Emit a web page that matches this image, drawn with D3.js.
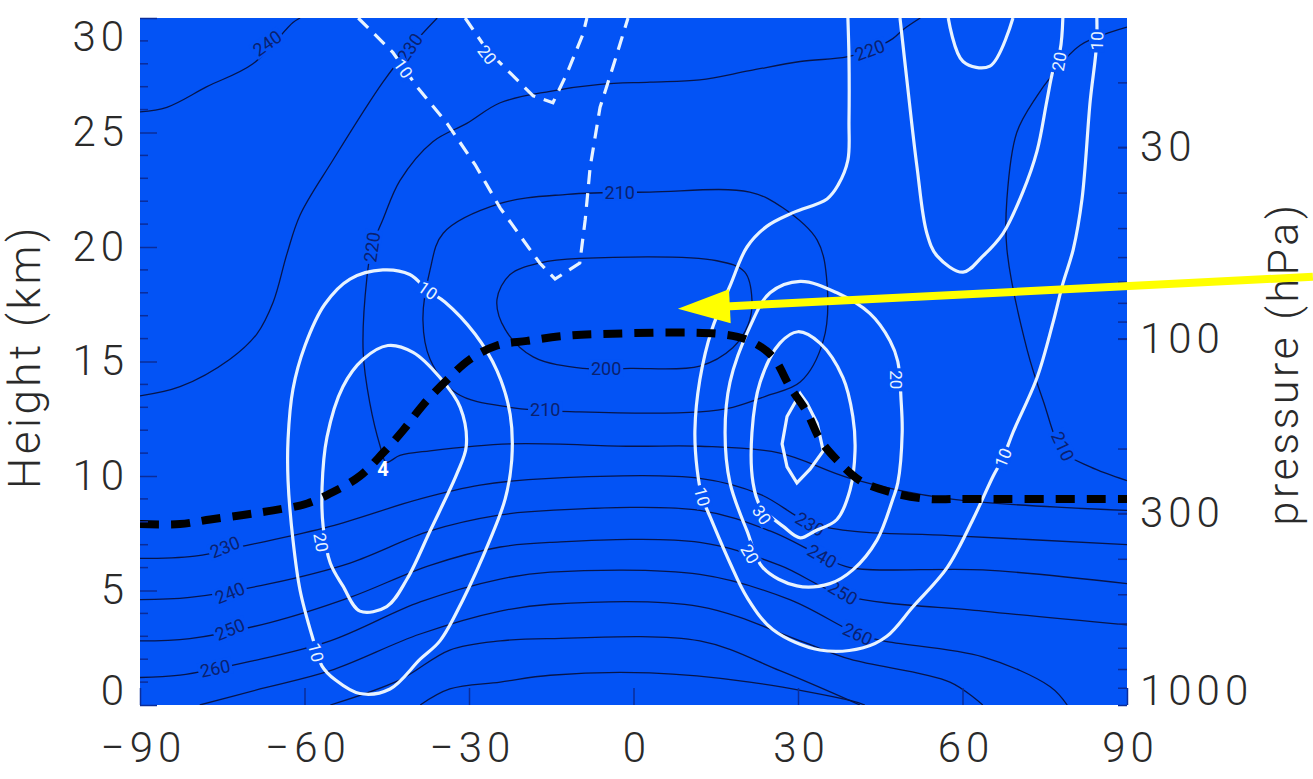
<!DOCTYPE html>
<html>
<head>
<meta charset="utf-8">
<script src="https://cdn.jsdelivr.net/npm/d3@7"></script>
<style>
  body { margin: 0; background: #fff; }
  svg text { font-family: Roboto, "DejaVu Sans", sans-serif; }
</style>
</head>
<body>
<div id="chart"></div>
<script>
// axis ticks
const latTicks = [-90, -60, -30, 0, 30, 60, 90];
const heightTicks = [0, 5, 10, 15, 20, 25, 30];
const pressureTicks = [30, 100, 300, 1000];
const pressureMinor = [20, 30, 40, 50, 60, 70, 80, 90, 100, 200, 300, 400, 500, 600, 700, 800, 900];

// zonal wind contours, [latitude, height km]
const wind10S = [[-45.7,19.0],[-40.8,18.8],[-37.5,18.1],[-34.4,17.6],[-28.9,16.2],[-24.9,14.6],[-22.5,12.7],[-22.2,10.7],[-23.4,9.0],[-26.2,7.2],[-31.1,4.6],[-35.3,2.8],[-38.9,2.0],[-44.4,0.7],[-49.9,0.5],[-54.4,1.1],[-56.8,1.7],[-58.6,3.0],[-60.8,5.0],[-62.1,7.2],[-63.0,9.8],[-63.0,11.6],[-62.1,13.8],[-59.9,15.7],[-56.3,17.5],[-51.7,18.6]];
const wind20S = [[-44.8,15.7],[-40.2,15.4],[-35.3,14.3],[-31.6,13.0],[-30.5,11.3],[-32.2,10.1],[-34.7,8.8],[-37.1,7.6],[-41.3,5.5],[-45.0,4.3],[-49.9,4.1],[-53.0,5.2],[-55.3,6.2],[-56.6,7.8],[-56.8,9.5],[-55.9,11.7],[-53.0,13.9],[-49.3,15.1]];
const wind10N = [[39.1,30],[39.3,28.2],[39.3,25.5],[39.1,23.8],[37.3,22.7],[35.3,22.1],[29.1,21.5],[24.3,20.9],[20.7,20.0],[17.6,18.3],[14.3,16.4],[12.1,14.2],[11.2,12.0],[11.6,10.3],[12.5,9.1],[14.0,8.2],[17.6,6.2],[20.7,4.7],[25.4,3.3],[34.0,2.4],[41.9,2.5],[46.2,3.0],[51.0,4.3],[57.2,6.0],[61.9,8.1],[65.6,10.0],[67.4,10.8],[69.2,11.9],[73.6,14.3],[76.5,16.7],[78.3,18.4],[80.2,19.9],[81.8,22.1],[83.3,26.4],[84.2,28.2],[84.5,29.0],[84.5,30]];
const wind20N = [[30.4,18.5],[37.1,18.0],[43.1,17.1],[46.8,15.9],[48.2,15.0],[48.8,13.3],[49.0,11.9],[48.2,9.7],[47.3,9.0],[44.4,7.2],[40.0,5.9],[35.8,5.3],[29.8,5.2],[23.6,6.0],[20.7,7.6],[17.6,9.7],[16.7,11.9],[17.6,14.1],[21.2,16.5],[24.9,18.0]];
const wind30N = [[30.0,16.3],[34.0,15.8],[38.2,14.3],[40.0,12.6],[40.4,11.1],[39.5,9.4],[37.1,8.1],[33.1,7.6],[30.4,7.3],[27.3,7.8],[23.1,8.7],[21.8,9.7],[21.6,11.9],[23.1,14.1],[26.7,15.8]];
const wind40N = [[30.4,13.6],[31.6,13.2],[33.5,12.3],[34.6,11.1],[32.2,10.3],[29.8,9.7],[28.0,10.4],[27.1,11.4],[28.0,12.6]];
const wind20Ntop = [[48.6,30],[49.9,27.2],[51.7,23.5],[53.5,20.6],[55.4,19.6],[60.1,18.9],[63.7,19.6],[67.4,20.6],[71.0,22.4],[73.6,24.2],[75.4,26.4],[76.5,27.7],[77.8,28.6],[78.3,30]];
const wind30Ntop = [[57.4,30],[60.1,28.1],[65.0,27.9],[69.2,30]];
const windNeg10 = [[-50.2,30],[-43.9,28.5],[-39.5,27.0],[-34.0,25.4],[-28.9,23.6],[-24.3,21.7],[-17.1,19.3],[-14.3,18.6],[-9.8,19.3],[-8.8,21.2],[-7.9,23.5],[-6.1,26.1],[-3.7,27.9],[-1.0,30]];
const windNeg20 = [[-30.7,30],[-26.7,28.6],[-22.5,27.6],[-18.3,26.6],[-17.1,26.5],[-14.7,26.3],[-12.1,27.6],[-9.2,29.3],[-8.5,30]];

// temperature contours (K), [latitude, height km]
const temp240S = [[-90,25.9],[-85.1,26.1],[-77.8,27.0],[-69.4,28.0],[-62.1,29.8],[-60.8,30]];
const temp230S = [[-90,13.5],[-82.7,13.9],[-73.6,15.1],[-68.7,16.2],[-65.7,17.6],[-63.2,19.7],[-60.8,21.4],[-54.8,23.8],[-45.7,27.2],[-40.8,28.7],[-35.8,30]];
const temp220 = [[52.3,30],[49.2,29.5],[47.3,29.1],[43.1,28.6],[38.9,28.3],[30.4,28.1],[21.2,27.7],[12.1,27.3],[3.0,27.2],[-6.1,27.1],[-15.2,26.8],[-24.3,26.3],[-30.4,25.4],[-36.6,24.6],[-42.6,22.9],[-45.7,21.2],[-47.7,20.0],[-48.6,18.7],[-49.3,15.4],[-48.1,13.2],[-46.2,11.3],[-45.1,10.6],[-42.6,10.9],[-37.1,11.1],[-22.5,11.4],[-0.6,11.3],[12.1,11.3],[26.7,11.0],[39.5,9.9],[57.7,9.0],[90,8.5]];
const temp210 = [[-34.7,20.6],[-24.3,21.9],[-12.1,22.3],[3.0,22.4],[21.2,22.4],[27.3,21.7],[33.5,20.3],[35.3,18.4],[34.6,15.9],[30.4,14.1],[24.3,13.5],[18.1,13.0],[12.1,12.8],[-9.8,12.8],[-22.5,13.0],[-32.2,13.6],[-37.1,15.1],[-38.4,16.8],[-37.1,19.0]];
const temp200 = [[-9.2,14.7],[-18.3,15.2],[-23.4,16.4],[-24.9,17.7],[-22.5,18.8],[-17.1,19.3],[-9.8,19.5],[15.2,19.4],[20.3,18.9],[21.6,17.7],[20.9,16.6],[18.1,15.6],[12.1,14.8],[-0.6,14.7]];
const temp210N = [[90,29.6],[81.4,28.8],[76.0,27.4],[73.6,26.6],[69.9,25.0],[68.1,22.1],[68.1,19.9],[71.8,15.5],[74.7,13.3],[78.3,11.1],[83.3,10.4],[90,9.8]];
const temp230 = [[-90,6.4],[-80.0,6.5],[-69.9,7.0],[-55.3,7.8],[-38.9,9.0],[-28.0,9.6],[-15.2,9.9],[12.1,9.9],[23.1,9.2],[31.8,8.0],[39.5,7.6],[57.7,7.4],[90,7.0]];
const temp240 = [[-90,4.6],[-80.9,4.7],[-66.3,5.3],[-51.7,6.2],[-37.1,7.6],[-24.3,8.3],[-15.2,8.5],[12.1,8.5],[24.9,7.6],[34.4,6.5],[39.5,6.0],[63.7,5.9],[90,5.3]];
const temp250 = [[-90,2.8],[-80.9,2.9],[-66.3,3.6],[-51.7,4.7],[-37.1,6.1],[-24.3,6.9],[-15.2,7.1],[12.1,7.1],[26.7,6.1],[38.2,4.8],[63.7,4.1],[90,3.5]];
const temp260 = [[-90,1.2],[-82.7,1.3],[-69.9,1.9],[-55.3,2.8],[-38.9,4.5],[-24.3,5.5],[-15.2,5.8],[12.1,5.7],[28.5,4.6],[40.9,3.1],[45.5,2.8],[63.7,2.1],[76.0,0.8],[79.1,0]];
const temp270 = [[-79.1,0],[-68.1,0.7],[-55.3,1.5],[-38.9,3.1],[-24.3,4.1],[-15.2,4.4],[12.1,4.3],[30.4,2.8],[39.5,2.0],[57.7,1.0],[63.7,0]];
const temp280 = [[-55.3,0],[-42.6,1.1],[-33.5,2.4],[-24.3,2.8],[-15.2,2.9],[12.1,2.8],[26.7,1.5],[41.3,0]];
const temp290 = [[-38.9,0],[-33.5,0.7],[-24.3,1.0],[-15.2,1.3],[3.0,1.4],[21.2,1.0],[39.5,0.2],[42.2,0]];

// thermal tropopause
const tropopause = [[-90,7.9],[-82.7,7.9],[-77.2,8.1],[-71.2,8.3],[-65.7,8.5],[-59.5,8.8],[-54.8,9.3],[-49.9,10.0],[-45.7,11.0],[-42.0,12.0],[-38.4,13.1],[-34.0,14.2],[-29.8,15.1],[-24.9,15.7],[-19.4,15.9],[-13.4,16.1],[-6.1,16.2],[15.8,16.2],[21.2,15.9],[25.4,15.2],[28.5,13.9],[31.6,12.8],[34.0,11.6],[37.1,10.7],[41.3,9.8],[46.8,9.3],[53.5,9.0],[59.5,9.0],[90,9.0]];

// contour labels: [lat, km, text, angle]
const tempLabels = [[-66.8,28.9,"240",-35],[-40.8,28.7,"230",-55],[-47.7,20.0,"220",-82],[-2.5,22.4,"210",0],[-5.0,14.7,"200",0],[-16.1,12.9,"210",0],[43.1,28.6,"220",-20],[78.3,11.3,"210",65],[-74.5,6.9,"230",-22],[-73.6,4.9,"240",-22],[-73.6,3.3,"250",-22],[-76.3,1.6,"260",-12],[32.2,7.9,"230",30],[34.4,6.5,"240",30],[38.2,4.9,"250",30],[40.9,3.1,"260",25]];
const windLabels = [[-42.0,27.8,"10",55],[-26.7,28.4,"20",52],[-37.5,18.1,"10",35],[-57.0,7.1,"20",80],[-57.9,2.3,"10",75],[12.5,9.1,"10",75],[23.4,8.3,"30",55],[21.2,6.6,"20",60],[47.9,14.2,"20",90],[67.4,10.8,"10",-68],[77.6,28.1,"20",-80],[84.5,29.0,"10",-88]];
const markLabel = [-45.7, 10.3, "4"];

// arrow: tail, tip
const arrowTail = [123.9, 18.7];
const arrowTip = [8.1, 17.3];

const bg = "#0353f5";
const margin = {top: 18, left: 140};
const W = 987, H = 687;

const x = d3.scaleLinear().domain([-90, 90]).range([0, W]);
const y = d3.scaleLinear().domain([0, 30]).range([H, 0]);
const p = d3.scaleLog().domain([1000, 13.3]).range([H, 0]);

const svg = d3.select("#chart").append("svg")
    .attr("width", 1313)
    .attr("height", 779);

const g = svg.append("g")
    .attr("transform", `translate(${margin.left},${margin.top})`);

g.append("clipPath").attr("id", "plot-clip")
  .append("rect").attr("width", W).attr("height", H);

g.append("rect")
    .attr("width", W).attr("height", H)
    .attr("fill", bg);

const plot = g.append("g").attr("clip-path", "url(#plot-clip)");

const lineOpen = d3.line().x(d => x(d[0])).y(d => y(d[1])).curve(d3.curveCatmullRom.alpha(0.5));
const lineClosed = d3.line().x(d => x(d[0])).y(d => y(d[1])).curve(d3.curveCatmullRomClosed.alpha(0.5));
const lineSharp = d3.line().x(d => x(d[0])).y(d => y(d[1])).curve(d3.curveLinearClosed);

// temperature
const tempOpen = [temp240S, temp230S, temp220, temp210N, temp230, temp240, temp250, temp260, temp270, temp280, temp290];
const tempClosed = [temp210, temp200];
plot.selectAll(".temp-open").data(tempOpen).enter().append("path")
    .attr("class", "temp-open")
    .attr("d", lineOpen)
    .attr("fill", "none").attr("stroke", "#07154a").attr("stroke-width", 1.3);
plot.selectAll(".temp-closed").data(tempClosed).enter().append("path")
    .attr("class", "temp-closed")
    .attr("d", lineClosed)
    .attr("fill", "none").attr("stroke", "#07154a").attr("stroke-width", 1.3);

function addLabel(parent, d, color, size, weight) {
  const lg = parent.append("g")
      .attr("transform", `translate(${x(d[0])},${y(d[1])}) rotate(${d[3] || 0})`);
  const r = lg.append("rect").attr("fill", bg);
  const t = lg.append("text")
      .attr("text-anchor", "middle")
      .attr("dy", "0.36em")
      .attr("font-size", size)
      .attr("font-weight", weight)
      .attr("fill", color)
      .text(d[2]);
  const bb = t.node().getBBox();
  r.attr("x", bb.x - 2).attr("y", bb.y + 2).attr("width", bb.width + 4).attr("height", bb.height - 4);
}

tempLabels.forEach(d => addLabel(plot, d, "#0a2170", 18, 400));

// wind
const windClosed = [wind10S, wind20S, wind20N, wind30N];
const windOpen = [wind10N, wind20Ntop, wind30Ntop];
plot.selectAll(".wind-closed").data(windClosed).enter().append("path")
    .attr("class", "wind-closed")
    .attr("d", lineClosed)
    .attr("fill", "none").attr("stroke", "#e8f3ff").attr("stroke-width", 3.2);
plot.selectAll(".wind-open").data(windOpen).enter().append("path")
    .attr("class", "wind-open")
    .attr("d", lineOpen)
    .attr("fill", "none").attr("stroke", "#e8f3ff").attr("stroke-width", 3.2);
plot.append("path").datum(wind40N)
    .attr("d", lineSharp)
    .attr("fill", "none").attr("stroke", "#e8f3ff").attr("stroke-width", 3.2);
plot.selectAll(".wind-neg").data([windNeg10, windNeg20]).enter().append("path")
    .attr("class", "wind-neg")
    .attr("d", d3.line().x(d => x(d[0])).y(d => y(d[1])))
    .attr("fill", "none").attr("stroke", "#e8f3ff").attr("stroke-width", 3.2)
    .attr("stroke-dasharray", "14,9");

windLabels.forEach(d => addLabel(plot, d, "#e8f3ff", 17, 400));

plot.append("text")
    .attr("x", x(markLabel[0])).attr("y", y(markLabel[1]))
    .attr("dy", "0.36em").attr("text-anchor", "middle")
    .attr("font-size", 20).attr("font-weight", 700)
    .attr("fill", "#ffffff")
    .text(markLabel[2]);

// tropopause
plot.append("path").datum(tropopause)
    .attr("d", lineOpen)
    .attr("fill", "none").attr("stroke", "#000").attr("stroke-width", 8)
    .attr("stroke-dasharray", "19,12");

// axes
const tickColor = "#0b2c99";
const xAxis = g.append("g")
    .attr("transform", `translate(0,${H})`)
    .call(d3.axisBottom(x).tickValues(latTicks).tickSize(-17).tickPadding(27).tickFormat(d3.format("d")));
const yAxis = g.append("g")
    .call(d3.axisLeft(y).tickValues(heightTicks).tickSize(-17).tickPadding(11));
const pAxis = g.append("g")
    .attr("transform", `translate(${W},0)`)
    .call(d3.axisRight(p).tickValues(pressureTicks).tickSize(-9).tickPadding(13).tickFormat(d3.format("d")));

[xAxis, yAxis, pAxis].forEach(a => {
  a.select(".domain").remove();
  a.selectAll(".tick line").attr("stroke", tickColor).attr("stroke-width", 1.5);
  a.selectAll(".tick text")
      .attr("font-size", 42).attr("font-weight", 300)
      .attr("fill", "#2a2a2a")
      .attr("letter-spacing", 5)
      .attr("font-family", "Roboto, 'DejaVu Sans', sans-serif");
});
xAxis.selectAll(".tick text").attr("dx", 3);

yAxis.selectAll(".tick text").filter(d => d === 0).attr("dy", "-0.02em");
yAxis.selectAll(".tick text").filter(d => d === 30).attr("dy", "0.78em");
pAxis.selectAll(".tick text").filter(d => d === 1000).attr("dy", "-0.02em");

// minor ticks
const minorH = d3.range(1, 30).filter(v => v % 5 !== 0);
g.append("g").selectAll("line").data(minorH).enter().append("line")
    .attr("x1", 0).attr("x2", 8)
    .attr("y1", d => y(d)).attr("y2", d => y(d))
    .attr("stroke", tickColor).attr("stroke-width", 1.5);
g.append("g").selectAll("line").data(pressureMinor).enter().append("line")
    .attr("x1", W - 9).attr("x2", W)
    .attr("y1", d => p(d)).attr("y2", d => p(d))
    .attr("stroke", tickColor).attr("stroke-width", 1.5);

// axis titles
g.append("text")
    .attr("transform", `translate(${40 - margin.left},${H / 2 - 5}) rotate(-90)`)
    .attr("text-anchor", "middle")
    .attr("font-size", 44).attr("font-weight", 300).attr("fill", "#2a2a2a")
    .attr("letter-spacing", 3.5)
    .text("Height (km)");
g.append("text")
    .attr("transform", `translate(${1298 - margin.left},${H / 2 + 2}) rotate(-90)`)
    .attr("text-anchor", "middle")
    .attr("font-size", 43).attr("font-weight", 300).attr("fill", "#2a2a2a")
    .attr("letter-spacing", 3.5)
    .text("pressure (hPa)");

// yellow arrow
const tx = x(arrowTip[0]), ty = y(arrowTip[1]);
const sx = x(arrowTail[0]), sy = y(arrowTail[1]);
const len = Math.hypot(sx - tx, sy - ty);
const ux = (sx - tx) / len, uy = (sy - ty) / len;
const headL = 52, headW = 17;
const bx = tx + ux * headL, by = ty + uy * headL;
g.append("line")
    .attr("x1", sx).attr("y1", sy).attr("x2", bx - ux * 4).attr("y2", by - uy * 4)
    .attr("stroke", "#ffff00").attr("stroke-width", 8);
g.append("path")
    .attr("d", `M${tx},${ty}L${bx - uy * headW},${by + ux * headW}L${bx + uy * headW},${by - ux * headW}Z`)
    .attr("fill", "#ffff00");
</script>
</body>
</html>
